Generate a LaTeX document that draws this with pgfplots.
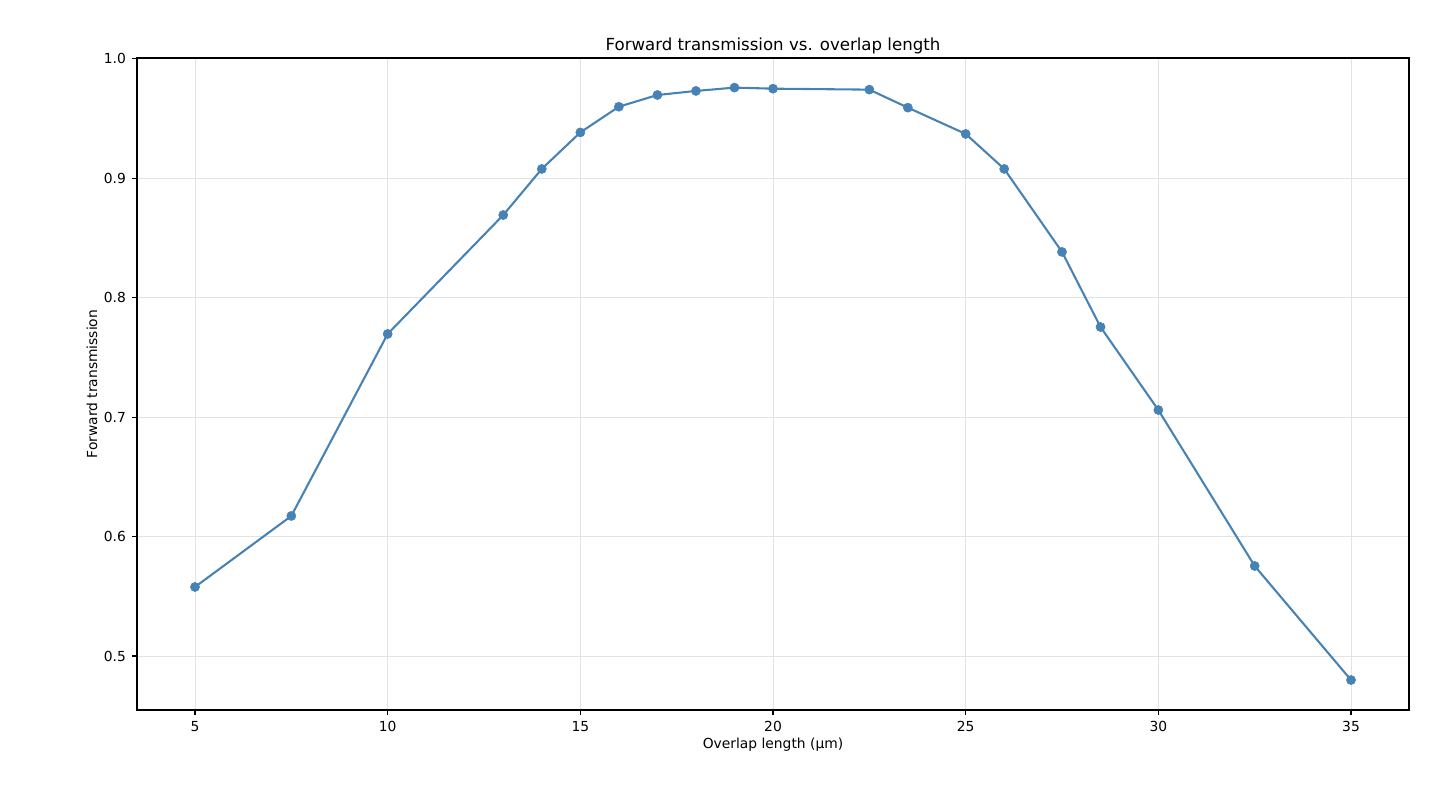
\documentclass[border=0pt]{standalone}
\usepackage{fontspec}
\setmainfont{DejaVu Sans}
\usepackage{pgfplots}
\pgfplotsset{compat=1.18}
\definecolor{steel}{HTML}{4682B4}
\definecolor{gridc}{HTML}{E3E3E3}

\begin{document}
\begin{tikzpicture}
\path[use as bounding box] (0,0) rectangle (14.4in,8.04in);
\begin{axis}[
  at={(1.37in,0.94in)}, anchor=south west,
  width=12.72in, height=6.52in, scale only axis,
  xmin=3.495, xmax=36.505, ymin=0.4548, ymax=1.0008,
  xtick={5,10,15,20,25,30,35},
  ytick={0.5,0.6,0.7,0.8,0.9,1.0},
  y tick label style={/pgf/number format/fixed, /pgf/number format/fixed zerofill, /pgf/number format/precision=1, xshift=-1pt},
  x tick label style={yshift=-1pt},
  /pgf/number format/assume math mode=true,
  tick align=outside, major tick length=3.5pt,
  xtick pos=bottom, ytick pos=left,
  tick style={black, line width=0.8pt},
  axis line style={black, line width=0.8pt},
  grid=major, major grid style={gridc, line width=0.7pt},
  ticklabel style={font=\fontsize{10}{12}\selectfont},
  every axis title shift=0pt,
  title={Forward transmission vs. overlap length},
  title style={font=\fontsize{12}{14}\selectfont, at={(axis description cs:0.5,1)}, anchor=center, yshift=0.125in},
  xlabel={Overlap length (µm)},
  xlabel style={font=\fontsize{10}{12}\selectfont, at={(axis description cs:0.5,0)}, anchor=center, yshift=-0.35in},
  ylabel={Forward transmission},
  ylabel style={font=\fontsize{10}{12}\selectfont, at={(axis description cs:-0.0354,0.5)}, anchor=center},
]
\addplot[steel, line width=1.5pt, mark=*, mark size=3.3pt, mark options={fill=steel, draw=steel, line width=0.4pt}]
coordinates {
(5,0.5578) (7.5,0.6173) (10,0.7697) (13,0.8693) (14,0.9079) (15,0.9385)
(16,0.9600) (17,0.9698) (18,0.9732) (19,0.9760) (20,0.9751) (22.5,0.9743)
(23.5,0.9592) (25,0.9372) (26,0.9079) (27.5,0.8384) (28.5,0.7755) (30,0.7060)
(32.5,0.5754) (35,0.4799)
};
\end{axis}
\end{tikzpicture}
\end{document}
